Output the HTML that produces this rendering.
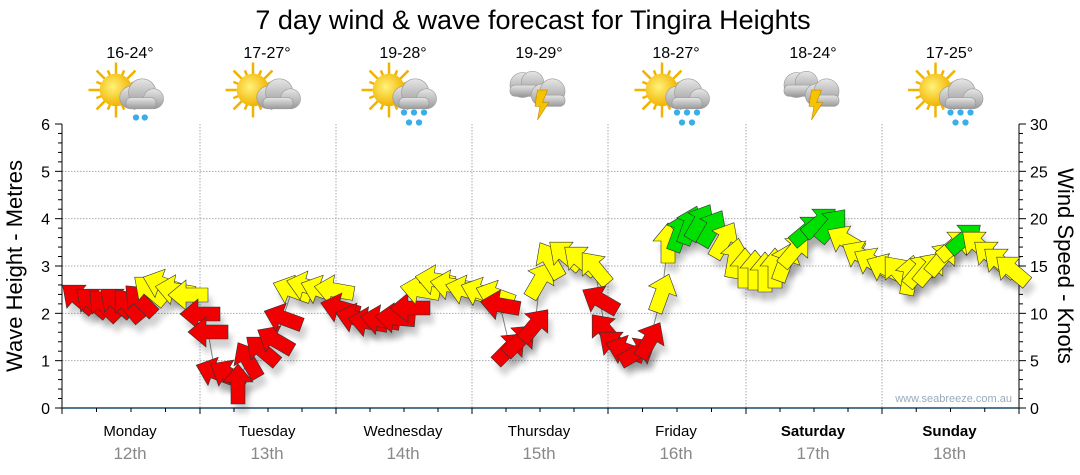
<!DOCTYPE html>
<html><head><meta charset="utf-8"><style>
html,body{margin:0;padding:0;background:#fff;width:1080px;height:475px;overflow:hidden}
svg text{font-family:"Liberation Sans","DejaVu Sans",sans-serif}
</style></head><body>
<svg id="s" width="1080" height="475" xmlns="http://www.w3.org/2000/svg">
<defs>
<filter id="sh" x="-50%" y="-50%" width="200%" height="200%"><feGaussianBlur stdDeviation="3"/></filter>
<radialGradient id="sun" cx="0.4" cy="0.4" r="0.6"><stop offset="0" stop-color="#fff27a"/><stop offset="1" stop-color="#f2b300"/></radialGradient>
<linearGradient id="cl" x1="0" y1="0" x2="0" y2="1"><stop offset="0" stop-color="#e6e6e6"/><stop offset="1" stop-color="#9a9a9a"/></linearGradient>
</defs>
<text x="533" y="29" font-size="27" text-anchor="middle" fill="#000">7 day wind &amp; wave forecast for Tingira Heights</text>
<g id="g"></g>
</svg>
<script>
const g=document.getElementById('g');let h='';
const L=62,R=1019,T=124,B=408;
const yM=m=>B-m*(B-T)/6;
for(let m=1;m<=5;m++)h+=`<line x1="${L}" x2="${R}" y1="${yM(m)}" y2="${yM(m)}" stroke="#aaa" stroke-dasharray="1.5,1.5"/>`;
const days=[62,200,336,472,608,746,882,1019];
for(let i=1;i<7;i++)h+=`<line x1="${days[i]}" x2="${days[i]}" y1="${T}" y2="${B}" stroke="#aaa" stroke-dasharray="1.5,1.5"/>`;
h+=`<line x1="${L}" x2="${L}" y1="${T}" y2="${B+6}" stroke="#000"/>`;
h+=`<line x1="${R}" x2="${R}" y1="${T}" y2="${B}" stroke="#000"/>`;
h+=`<line x1="${L}" x2="${R}" y1="${B}" y2="${B}" stroke="#1a4a6a" stroke-width="1.5"/>`;
for(let m=0;m<=30;m++){const y=B-m*(B-T)/30;const maj=m%5==0;h+=`<line x1="${L-(maj?7:4)}" x2="${L}" y1="${y}" y2="${y}" stroke="#000"/>`;}
for(let m=0;m<=6;m++)h+=`<text x="${L-12}" y="${yM(m)+6}" font-size="16" text-anchor="end">${m}</text>`;
for(let k=0;k<=30;k++){const y=B-k*(B-T)/30;const maj=k%5==0;h+=`<line x1="${R}" x2="${R+(maj?7:4)}" y1="${y}" y2="${y}" stroke="#000"/>`;if(maj)h+=`<text x="${R+11}" y="${y+6}" font-size="16">${k}</text>`;}
for(let i=0;i<7;i++)for(let q=0;q<4;q++){const x=days[i]+q*(days[i+1]-days[i])/4;h+=`<line x1="${x}" x2="${x}" y1="${B}" y2="${B+(q==0?6:4)}" stroke="#000"/>`;}
h+=`<line x1="${R}" x2="${R}" y1="${B}" y2="${B+6}" stroke="#000"/>`;
h+=`<text transform="translate(22,266) rotate(-90)" font-size="22" text-anchor="middle">Wave Height - Metres</text>`;
h+=`<text transform="translate(1058,266) rotate(90)" font-size="22" text-anchor="middle">Wind Speed - Knots</text>`;
h+=`<text x="1012" y="402" font-size="11" fill="#9ab" text-anchor="end">www.seabreeze.com.au</text>`;
const names=['Monday','Tuesday','Wednesday','Thursday','Friday','Saturday','Sunday'];
const dates=['12th','13th','14th','15th','16th','17th','18th'];
const temps=['16-24°','17-27°','19-28°','19-29°','18-27°','18-24°','17-25°'];
const icons=['sc','sc2','sr','st','sr','st2','sr'];
for(let i=0;i<7;i++){const cx=(days[i]+days[i+1])/2-1;
h+=`<text x="${cx}" y="436" font-size="15" text-anchor="middle" ${i>=5?'font-weight="bold"':''}>${names[i]}</text>`;
h+=`<text x="${cx}" y="459" font-size="17" text-anchor="middle" fill="#888">${dates[i]}</text>`;
h+=`<text x="${cx}" y="58" font-size="16" text-anchor="middle">${temps[i]}</text>`;
const ic=icons[i],x0=cx-4,y0=95;
h+=`<g transform="translate(${x0},${y0}) scale(1.25) translate(${-x0},${-y0})">`;
if(ic[1]!='t'){let rays='';for(let a=0;a<16;a++){const an=a*Math.PI/8;rays+=`<line x1="${x0-8}" y1="${y0-4}" x2="${x0-8+Math.cos(an)*(a%2?17:22)}" y2="${y0-4+Math.sin(an)*(a%2?17:22)}" stroke="#f0b400" stroke-width="2"/>`;}
h+=rays+`<circle cx="${x0-8}" cy="${y0-4}" r="13" fill="url(#sun)"/>`;
h+=`<g fill="url(#cl)" stroke="#999" stroke-width=".5"><circle cx="${x0+4}" cy="${y0+2}" r="9"/><circle cx="${x0+13}" cy="${y0-2}" r="11"/><circle cx="${x0+22}" cy="${y0+3}" r="8"/><rect x="${x0}" y="${y0+2}" width="24" height="9" rx="4"/></g>`;
if(ic=='sc'||ic=='sr'){const ds=ic=='sc'?[[8,18],[15,18]]:[[4,14],[12,14],[20,14],[8,22],[16,22]];for(const d of ds)h+=`<circle cx="${x0+d[0]}" cy="${y0+d[1]}" r="2.5" fill="#3aaee8"/>`;}
}else{
h+=`<g fill="url(#cl)" stroke="#999" stroke-width=".5"><circle cx="${x0-10}" cy="${y0-8}" r="10"/><circle cx="${x0-2}" cy="${y0-10}" r="9"/><rect x="${x0-20}" y="${y0-8}" width="24" height="9" rx="4"/><circle cx="${x0+6}" cy="${y0}" r="9"/><circle cx="${x0+14}" cy="${y0-3}" r="10"/><rect x="${x0}" y="${y0}" width="24" height="9" rx="4"/></g>`;
h+=`<polygon points="${x0+2},${y0-4} ${x0+10},${y0-4} ${x0+6},${y0+6} ${x0+11},${y0+6} ${x0+2},${y0+20} ${x0+4},${y0+9} ${x0},${y0+9}" fill="#f5c400" stroke="#c80" stroke-width=".5"/>`;}
h+='</g>';
}
const r='#f00000',y='#ffff00',gg='#00e000';
const P=[[78,298,-140,r],[92,302,-140,r],[104,305,-135,r],[116,302,-140,r],[128,305,-130,r],[140,300,-135,r],[150,290,-140,y],[162,284,-160,y],[175,290,-170,y],[188,295,180,y],
[200,314,180,r],[208,332,180,r],[215,372,-160,r],[228,374,-150,r],[238,384,-90,r],[248,360,-120,r],[262,350,-140,r],[275,340,-150,r],[283,318,-160,r],[292,290,-160,y],[306,286,-165,y],[320,290,-160,y],[334,290,-170,y],
[340,308,-165,r],[355,318,-165,r],[368,322,-170,r],[380,320,-170,r],[395,318,-175,r],[410,308,180,r],[420,290,-170,y],[435,280,-170,y],[450,285,-170,y],[465,290,-165,y],[480,292,-160,y],[495,295,-160,y],
[500,305,-170,r],[510,348,-45,r],[520,340,-45,r],[535,325,-50,r],[540,280,-60,y],[550,260,-120,y],[565,255,-140,y],[580,260,-140,y],[595,268,-130,y],[600,300,-150,r],
[605,330,-130,r],[615,345,-140,r],[625,350,-160,r],[638,352,-30,r],[650,340,-60,r],[662,293,-70,y],[668,243,-90,y],[680,232,-70,gg],[690,225,-70,gg],[700,222,-60,gg],[712,228,-60,gg],[724,240,-60,y],[735,258,-80,y],[745,268,-90,y],
[755,270,-90,y],[765,272,-90,y],[775,268,-90,y],[785,262,-70,y],[795,250,-50,y],[808,230,-40,gg],[820,222,-40,gg],[832,225,-50,gg],[845,240,-150,y],[860,255,-150,y],[872,262,-150,y],
[885,268,-155,y],[898,272,-130,y],[910,275,-80,y],[920,270,-50,y],[930,268,-50,y],[942,258,-50,y],[955,245,-40,y],[965,238,-40,gg],[978,245,-140,y],[990,255,-140,y],[1000,262,-140,y],[1012,270,-140,y]];
h+=`<polyline fill="none" stroke="#888" stroke-width="1" points="${P.map(p=>p[0]+','+p[1]).join(' ')}"/>`;
const shape="-20,-7 2,-7 2,-15 20,0 2,15 2,7 -20,7";
for(const p of P)h+=`<polygon points="${shape}" transform="translate(${p[0]+4},${p[1]+9}) rotate(${p[2]})" fill="#000" opacity=".18" filter="url(#sh)"/>`;
for(const p of P)h+=`<polygon points="${shape}" transform="translate(${p[0]},${p[1]}) rotate(${p[2]})" fill="${p[3]}" stroke="#333" stroke-width=".6"/>`;
g.innerHTML=h;
</script>
</body></html>
